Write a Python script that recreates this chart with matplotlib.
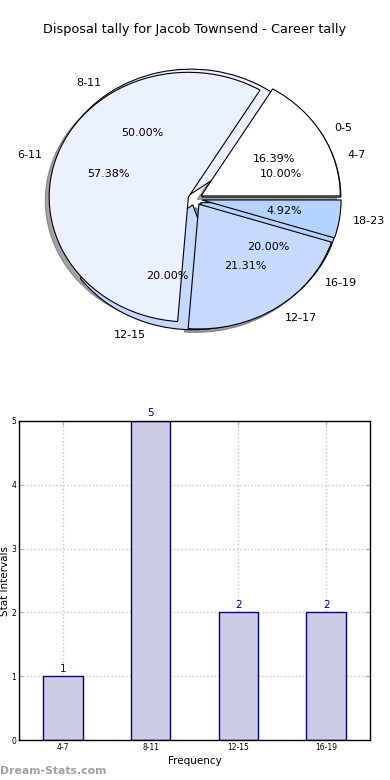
import matplotlib
matplotlib.use('Agg')
import matplotlib.pyplot as plt

# pie data: career disposals by interval (two groupings overlaid)
pie1_labels = ['0-5', '6-11', '12-17', '18-23']
pie1_values = [10, 35, 13, 3]
pie2_labels = ['4-7', '8-11', '12-15', '16-19']
pie2_values = [1, 5, 2, 2]

# bar data
bar_labels = ['4-7', '8-11', '12-15', '16-19']
bar_values = [1, 5, 2, 2]

pie_colors = ['#ffffff', '#ebf1fe', '#c6d9fe', '#b4d4ff']

fig = plt.figure(figsize=(3.9, 7.8), dpi=100)
fig.text(0.5, 1 - 30 / 780, 'Disposal tally for Jacob Townsend - Career tally',
         ha='center', va='center', fontsize=9.3)

ax1 = fig.add_axes([21 / 390, 1 - 355 / 780, 348 / 390, 312 / 780])
wp = {'edgecolor': 'black', 'linewidth': 0.8}
ax1.pie(pie2_values, labels=pie2_labels, colors=pie_colors, explode=[0.05] * 4,
        autopct='%1.2f%%', shadow=False, wedgeprops=wp,
        textprops={'fontsize': 8})
ax1.pie(pie1_values, labels=pie1_labels, colors=pie_colors, explode=[0.05] * 4,
        autopct='%1.2f%%', shadow=True, wedgeprops=wp,
        textprops={'fontsize': 8})
ax1.set_aspect('auto')
ax1.set_xlim(-1.25, 1.25)
ax1.set_ylim(-1.25, 1.25)
ax1.axis('off')

ax2 = fig.add_axes([19 / 390, 1 - 740 / 780, 351 / 390, 319 / 780])
x = list(range(len(bar_values)))
ax2.bar(x, bar_values, width=0.45, color='#ccccE4', edgecolor='#000080',
        linewidth=1, zorder=2)
for i, v in zip(x, bar_values):
    ax2.text(i, v + 0.04, str(v), ha='center', va='bottom', color='#000080',
             fontsize=7.5)
ax2.set_xlim(-0.5, 3.5)
ax2.set_ylim(0, 5)
ax2.set_xticks(x)
ax2.set_xticklabels(bar_labels)
ax2.set_yticks(range(6))
ax2.tick_params(labelsize=5.5, direction='in', length=3, color='#aaaaaa',
                top=True, right=True, pad=2)
ax2.grid(True, linestyle=':', color='#c4c4c4', linewidth=1, zorder=0)
ax2.set_axisbelow(True)
ax2.set_xlabel('Frequency', fontsize=7.5, labelpad=3)
ax2.set_ylabel('Stat Intervals', fontsize=7.5, labelpad=1)
for s in ax2.spines.values():
    s.set_linewidth(1)

fig.text(0, 1 - 771 / 780, 'Dream-Stats.com', ha='left', va='center',
         fontsize=7.8, fontweight='bold', color='#a0a0a0')

fig.savefig('out.png', dpi=100)
